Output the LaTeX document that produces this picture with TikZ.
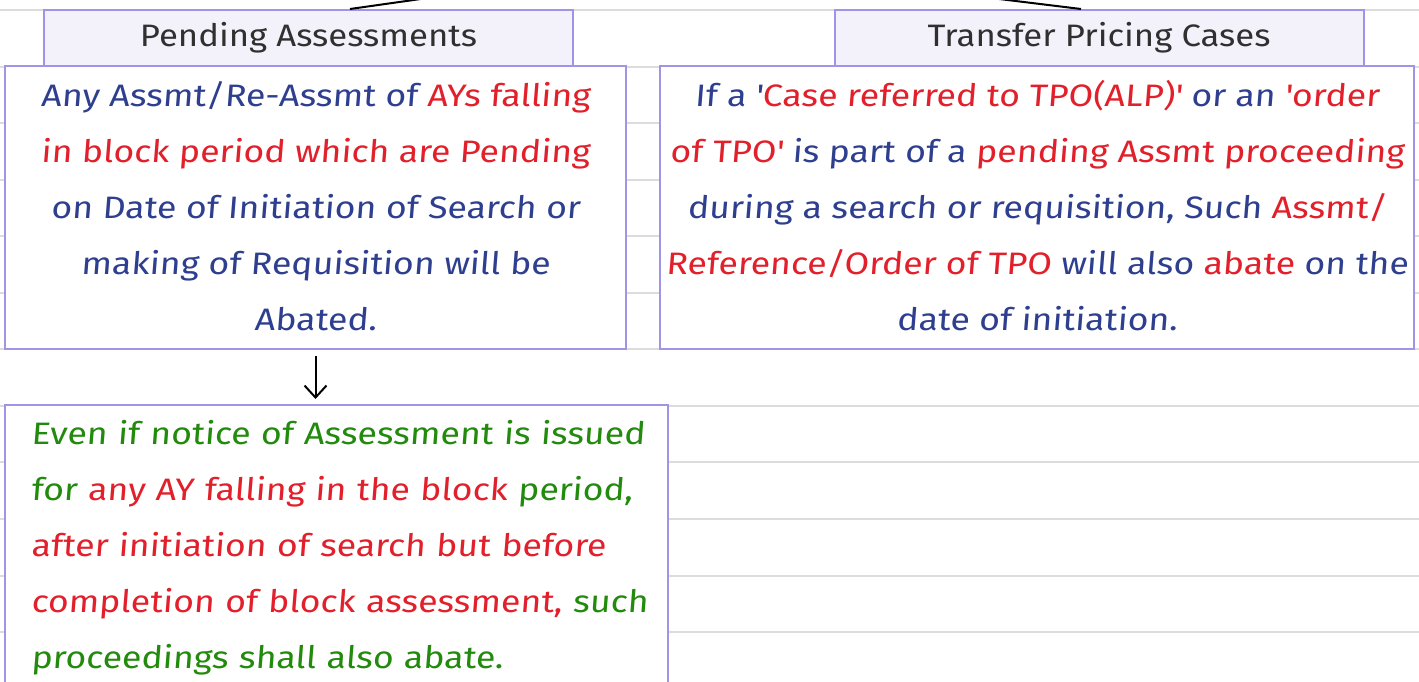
\documentclass[tikz,border=0pt]{standalone}
\usepackage{fontspec}
\setmainfont{Fira Sans}
\newfontfamily\headfont{Fira Sans}[FakeStretch=1.12]
\newfontfamily\handfont{Fira Sans}[FakeStretch=1.15, FakeSlant=0.08]
\usetikzlibrary{arrows.meta}

\definecolor{inkblue}{HTML}{2E3F8F}
\definecolor{inkred}{HTML}{E2202B}
\definecolor{inkgreen}{HTML}{228A0C}
\definecolor{inktitle}{HTML}{303030}
\definecolor{boxedge}{HTML}{A094E8}
\definecolor{titlefill}{HTML}{F3F2FA}
\definecolor{rulegray}{HTML}{DCDCDC}

\newcommand{\inkB}[1]{\textcolor{inkblue}{#1}}
\newcommand{\inkR}[1]{\textcolor{inkred}{#1}}
\newcommand{\inkG}[1]{\textcolor{inkgreen}{#1}}
\newcommand{\sq}{\textquotesingle}
% one unbreakable line of text, with a strut for even spacing
\newcommand{\tline}[1]{\mbox{\strut#1}}

\tikzset{
  rule/.style={draw=rulegray, line width=2pt},
  titlebox/.style={draw=boxedge, line width=2pt, fill=titlefill, text=inktitle,
    minimum width=529pt, minimum height=56pt, inner sep=0pt,
    font=\headfont\fontsize{31pt}{36pt}\selectfont},
  textbox/.style={draw=boxedge, line width=2pt, fill=white, inner sep=0pt,
    align=center, font=\handfont\fontsize{31pt}{56pt}\selectfont},
  link/.style={draw=black, line width=2pt},
  flow/.style={draw=black, line width=2pt, -{Straight Barb[length=12pt,width=22pt]}}
}

\begin{document}
\begin{tikzpicture}[x=1pt, y=-1pt]
  \useasboundingbox (0,0) rectangle (1419,682);
  \clip (0,0) rectangle (1419,682);

  % ruled paper
  \foreach \k in {0,...,11}
    \draw[rule] (0,{10+56.55*\k}) -- (1419,{10+56.55*\k});

  % section headers
  \node[titlebox] (t1) at (308.5,38) {Pending Assessments};
  \node[titlebox] (t2) at (1099,38) {Transfer Pricing Cases};

  % incoming links from the parent above
  \coordinate (up1) at (470,-8);
  \coordinate (up2) at (942,-8);
  \draw[link] (up1) -- ([xshift=41.5pt]t1.north);
  \draw[link] (up2) -- ([xshift=-18pt]t2.north);

  % detail boxes
  \node[textbox, minimum width=621pt, minimum height=283pt] (b1) at (315.5,207.5) {%
    \tline{\inkB{Any Assmt/Re-Assmt of} \inkR{AYs falling}}\\
    \tline{\inkR{in block period which are Pending}}\\
    \tline{\inkB{on Date of Initiation of Search or}}\\
    \tline{\inkB{making of Requisition will be}}\\
    \tline{\inkB{Abated.}}};

  \node[textbox, minimum width=754pt, minimum height=283pt] (b2) at (1037,207.5) {%
    \tline{\inkB{If a \sq}\inkR{Case referred to TPO(ALP)\sq} \inkB{or an} \inkR{\sq order}}\\
    \tline{\inkR{of TPO\sq} \inkB{is part of a} \inkR{pending Assmt proceeding}}\\
    \tline{\inkB{during a search or requisition, Such} \inkR{Assmt/}}\\
    \tline{\inkR{Reference/Order of TPO} \inkB{will also} \inkR{abate} \inkB{on the}}\\
    \tline{\inkB{date of initiation.}}};

  \node[textbox, align=left, text width=611pt, inner xsep=26pt,
        minimum width=663pt, minimum height=280pt] (b3) at (336.5,545) {%
    \tline{\inkG{Even if notice of Assessment is issued}}\\
    \tline{\inkG{for} \inkR{any AY falling in the block} \inkG{period,}}\\
    \tline{\inkR{after initiation of search but before}}\\
    \tline{\inkR{completion of block assessment,} \inkG{such}}\\
    \tline{\inkG{proceedings shall also abate.}}};

  % flow from pending assessments to the follow-up note
  \draw[flow, shorten <=6pt, shorten >=5pt] (b1.south) -- (b1.south |- b3.north);
\end{tikzpicture}
\end{document}
